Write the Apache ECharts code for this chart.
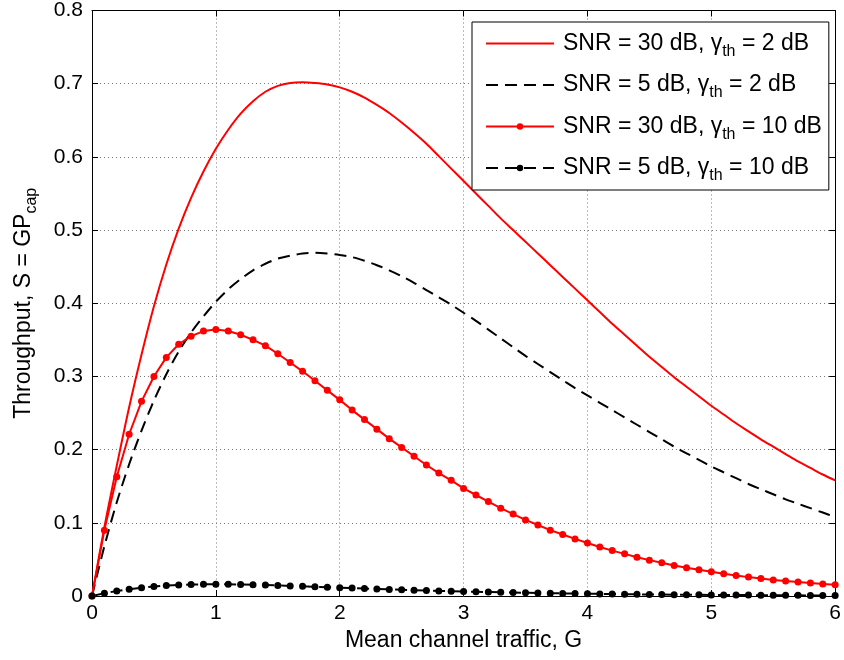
<!DOCTYPE html>
<html>
<head>
<meta charset="utf-8">
<script src="https://cdn.jsdelivr.net/npm/echarts@6/dist/echarts.min.js"></script>
<style>
  html, body { margin: 0; padding: 0; background: #fff; }
  #chart { width: 844px; height: 660px; }
</style>
</head>
<body>
<div id="chart"></div>
<script>
// Mean channel traffic G (x values shared by all curves)
const trafficG = [
  0, 0.1, 0.2, 0.3, 0.4, 0.5, 0.6, 0.7, 0.8, 0.9,
  1.0, 1.1, 1.2, 1.3, 1.4, 1.5, 1.6, 1.7, 1.8, 1.9,
  2.0, 2.1, 2.2, 2.3, 2.4, 2.5, 2.6, 2.7, 2.8, 2.9,
  3.0, 3.1, 3.2, 3.3, 3.4, 3.5, 3.6, 3.7, 3.8, 3.9,
  4.0, 4.1, 4.2, 4.3, 4.4, 4.5, 4.6, 4.7, 4.8, 4.9,
  5.0, 5.1, 5.2, 5.3, 5.4, 5.5, 5.6, 5.7, 5.8, 5.9,
  6.0
];

// Throughput S for SNR = 30 dB, threshold 2 dB
const snr30Th2 = [
  0, 0.094, 0.178, 0.258, 0.33, 0.396, 0.453, 0.502, 0.544, 0.58,
  0.611, 0.637, 0.659, 0.676, 0.689, 0.697, 0.701, 0.702, 0.701, 0.699,
  0.695, 0.689, 0.681, 0.671, 0.66, 0.647, 0.633, 0.618, 0.601, 0.584,
  0.567, 0.55, 0.533, 0.516, 0.5, 0.484, 0.468, 0.452, 0.436, 0.42,
  0.404, 0.388, 0.372, 0.357, 0.342, 0.327, 0.313, 0.299, 0.286, 0.273,
  0.26, 0.248, 0.236, 0.225, 0.214, 0.204, 0.194, 0.184, 0.175, 0.166,
  0.158
];

// Throughput S for SNR = 5 dB, threshold 2 dB
const snr5Th2 = [
  0, 0.068, 0.128, 0.18, 0.226, 0.267, 0.303, 0.334, 0.36, 0.382,
  0.402, 0.419, 0.433, 0.445, 0.454, 0.461, 0.465, 0.468, 0.469, 0.468,
  0.466, 0.463, 0.458, 0.452, 0.445, 0.437, 0.428, 0.418, 0.408, 0.398,
  0.387, 0.376, 0.364, 0.352, 0.34, 0.328, 0.317, 0.306, 0.295, 0.284,
  0.274, 0.264, 0.254, 0.244, 0.234, 0.224, 0.214, 0.204, 0.195, 0.186,
  0.177, 0.169, 0.161, 0.153, 0.146, 0.139, 0.132, 0.126, 0.12, 0.114,
  0.108
];

// Throughput S for SNR = 30 dB, threshold 10 dB
const snr30Th10 = [
  0, 0.09, 0.163, 0.221, 0.266, 0.3, 0.326, 0.344, 0.355, 0.362,
  0.364, 0.362, 0.357, 0.35, 0.342, 0.331, 0.319, 0.307, 0.294, 0.281,
  0.268, 0.254, 0.241, 0.228, 0.215, 0.203, 0.191, 0.179, 0.168, 0.158,
  0.147, 0.138, 0.129, 0.12, 0.112, 0.104, 0.097, 0.09, 0.084, 0.078,
  0.0725, 0.067, 0.062, 0.0576, 0.053, 0.049, 0.0453, 0.0417, 0.0385, 0.0358,
  0.033, 0.0303, 0.028, 0.0258, 0.024, 0.022, 0.0204, 0.019, 0.0177, 0.0163,
  0.0154
];

// Throughput S for SNR = 5 dB, threshold 10 dB
const snr5Th10 = [
  0, 0.0038, 0.0068, 0.0092, 0.0113, 0.0129, 0.0142, 0.0151, 0.0157, 0.016,
  0.0161, 0.016, 0.0157, 0.0153, 0.0149, 0.0144, 0.0138, 0.0132, 0.0126, 0.012,
  0.0114, 0.0108, 0.0102, 0.0096, 0.009, 0.0085, 0.008, 0.0075, 0.007, 0.0066,
  0.0062, 0.0058, 0.0054, 0.005, 0.0047, 0.0044, 0.0041, 0.0038, 0.0035, 0.0033,
  0.0031, 0.0029, 0.0027, 0.0025, 0.0023, 0.0021, 0.002, 0.0018, 0.0017, 0.0016,
  0.0015, 0.0014, 0.0013, 0.0012, 0.0011, 0.001, 0.0009, 0.0009, 0.0008, 0.0007,
  0.0007
];

// Legend entries: SNR and threshold (dB) per curve
const seriesNames = [
  'SNR = 30 dB, γth = 2 dB',
  'SNR = 5 dB, γth = 2 dB',
  'SNR = 30 dB, γth = 10 dB',
  'SNR = 5 dB, γth = 10 dB'
];
const legendParts = [
  ['SNR = 30 dB, γ', ' = 2 dB'],
  ['SNR = 5 dB, γ', ' = 2 dB'],
  ['SNR = 30 dB, γ', ' = 10 dB'],
  ['SNR = 5 dB, γ', ' = 10 dB']
];

const FONT = '"Liberation Sans", Arial, Helvetica, sans-serif';
const pairs = (ys) => trafficG.map((g, i) => [g, ys[i]]);

const chart = echarts.init(document.getElementById('chart'), null, { renderer: 'canvas' });

const gridLine = { show: true, lineStyle: { color: '#777', width: 1, type: [1, 3] } };
const tick = { show: true, inside: true, length: 6, lineStyle: { color: '#000', width: 1 } };
const axLine = { show: true, onZero: false, lineStyle: { color: '#000', width: 1 } };
const labelStyle = { color: '#000', fontFamily: FONT, fontSize: 21 };
const subRich = {
  m: { fontSize: 23, fontFamily: FONT, color: '#000', lineHeight: 32, verticalAlign: 'middle' },
  s: { fontSize: 16, fontFamily: FONT, color: '#000', lineHeight: 16, verticalAlign: 'bottom' }
};

chart.setOption({
  animation: false,
  backgroundColor: '#fff',
  grid: { left: 92, right: 7, top: 8, bottom: 64, containLabel: false },
  xAxis: [
    {
      type: 'value', min: 0, max: 6, interval: 1, position: 'bottom',
      axisLine: axLine, axisTick: tick, splitLine: gridLine,
      axisLabel: Object.assign({ margin: 7 }, labelStyle),
      name: 'Mean channel traffic, G', nameLocation: 'middle', nameGap: 33,
      nameTextStyle: { color: '#000', fontFamily: FONT, fontSize: 23 }
    },
    {
      type: 'value', min: 0, max: 6, interval: 1, position: 'top',
      axisLine: axLine, axisTick: tick, splitLine: { show: false },
      axisLabel: { show: false }
    }
  ],
  yAxis: [
    {
      type: 'value', min: 0, max: 0.8, interval: 0.1, position: 'left',
      axisLine: axLine, axisTick: tick, splitLine: gridLine,
      axisLabel: Object.assign({ margin: 9 }, labelStyle),
      name: '{m|Throughput, S = GP}{s|cap}',
      nameLocation: 'middle', nameRotate: 90, nameGap: 52,
      nameTextStyle: { color: '#000', fontFamily: FONT, rich: subRich }
    },
    {
      type: 'value', min: 0, max: 0.8, interval: 0.1, position: 'right',
      axisLine: axLine, axisTick: tick, splitLine: { show: false },
      axisLabel: { show: false }
    }
  ],
  legend: {
    orient: 'vertical', left: 472, top: 22,
    data: [
      { name: seriesNames[0], itemStyle: { opacity: 0 } },
      { name: seriesNames[1], itemStyle: { opacity: 0 } },
      { name: seriesNames[2] },
      { name: seriesNames[3] }
    ],
    itemWidth: 68, itemHeight: 8, itemGap: 14,
    padding: [10, 7, 6, 13],
    backgroundColor: '#fff', borderColor: '#000', borderWidth: 1, borderRadius: 0,
    formatter: (name) => {
      const p = legendParts[seriesNames.indexOf(name)];
      return '{m|' + p[0] + '}{s|th}{m|' + p[1] + '}';
    },
    textStyle: { color: '#000', fontFamily: FONT, padding: [0, 0, 0, 4], rich: subRich }
  },
  series: [
    {
      name: seriesNames[0], type: 'line', data: pairs(snr30Th2),
      symbol: 'none', smooth: 0.3,
      lineStyle: { color: '#ff0000', width: 2 }, itemStyle: { color: '#ff0000' }
    },
    {
      name: seriesNames[1], type: 'line', data: pairs(snr5Th2),
      symbol: 'none', smooth: 0.3,
      lineStyle: { color: '#000', width: 2, type: [12, 7] }, itemStyle: { color: '#000' }
    },
    {
      name: seriesNames[2], type: 'line', data: pairs(snr30Th10),
      symbol: 'circle', symbolSize: 7,
      lineStyle: { color: '#ff0000', width: 2 }, itemStyle: { color: '#ff0000' }
    },
    {
      name: seriesNames[3], type: 'line', data: pairs(snr5Th10),
      symbol: 'circle', symbolSize: 7,
      lineStyle: { color: '#000', width: 2, type: [12, 7] }, itemStyle: { color: '#000' }
    }
  ]
});
</script>
</body>
</html>
